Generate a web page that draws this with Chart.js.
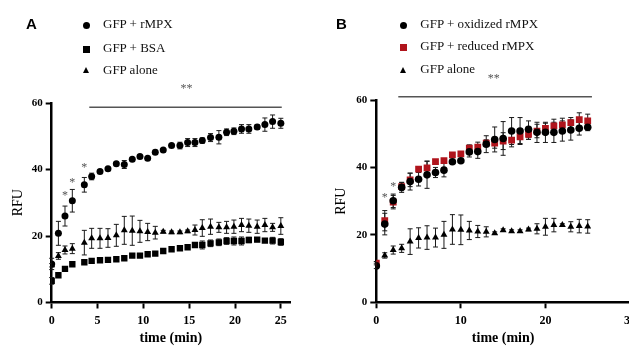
<!DOCTYPE html>
<html>
<head>
<meta charset="utf-8">
<script src="https://cdn.jsdelivr.net/npm/chart.js@4.4.1/dist/chart.umd.min.js"></script>
<style>
  html, body { margin: 0; padding: 0; background: #fff; width: 629px; height: 347px; overflow: hidden; }
  .panel { position: absolute; top: 0; height: 347px; }
  #wrapA { left: 0; width: 314px; }
  #wrapB { left: 314px; width: 340px; }
  .letter { position: absolute; font-family: "Liberation Sans", Arial, sans-serif; font-weight: bold; font-size: 15px; line-height: 15px; }
  .legtext { position: absolute; font-family: "Liberation Serif", "Times New Roman", serif; font-size: 13px; line-height: 16px; white-space: nowrap; color: #111; }
  .mk { position: absolute; background: #000; }
  .mk.circle { width: 7px; height: 7px; border-radius: 50%; }
  .mk.rect { width: 7px; height: 7px; }
  .mk.triangle { width: 0; height: 0; background: none; border-left: 3.5px solid transparent; border-right: 3.5px solid transparent; border-bottom: 6px solid #000; }
</style>
</head>
<body>
<div id="wrapA" class="panel"><canvas id="chartA" width="314" height="347"></canvas></div>
<div id="wrapB" class="panel"><canvas id="chartB" width="340" height="347"></canvas></div>
<div class="letter" style="left:26px; top:16px;">A</div>
<div class="letter" style="left:336px; top:16px;">B</div>

<script>
// ---- panel A data (time in min, RFU, SEM) ----
const labelsA = ['GFP + rMPX', 'GFP + BSA', 'GFP alone'];
const timeA = [0, 0.73, 1.45, 2.25, 3.56, 4.36, 5.27, 6.14, 7.05, 7.92, 8.79, 9.63, 10.47, 11.3, 12.17,
               13.08, 13.99, 14.83, 15.63, 16.43, 17.33, 18.24, 19.08, 19.88, 20.71, 21.51, 22.42, 23.26, 24.1, 25.0];
const rmpxA = [11.6, 20.8, 26.0, 30.6, 35.4, 37.9, 39.4, 40.2, 41.7, 41.5, 43.1, 43.9, 43.4, 45.2, 45.9,
               47.2, 47.2, 48.1, 48.1, 48.7, 49.6, 49.7, 51.2, 51.5, 52.2, 52.2, 52.8, 53.5, 54.4, 53.9];
const rmpxErrA = [1.7, 3.6, 3.0, 3.4, 2.2, 1.0, 0.4, 0.4, 0.5, 1.2, 0.4, 0.4, 0.4, 0.6, 0.4,
                  0.5, 1.0, 1.2, 1.2, 0.8, 1.2, 2.0, 1.0, 1.0, 1.3, 1.3, 0.7, 2.0, 2.0, 1.5];
const bsaA = [6.5, 8.2, 10.1, 11.5, 12.1, 12.5, 12.7, 12.8, 13.0, 13.3, 14.1, 14.1, 14.5, 14.7, 15.5,
              16.0, 16.3, 16.6, 17.3, 17.3, 17.8, 18.1, 18.5, 18.5, 18.5, 18.8, 18.9, 18.6, 18.6, 18.2];
const bsaErrA = [1.0, 0.4, 0.4, 0.4, 0.4, 0.4, 0.4, 0.4, 0.4, 0.4, 0.4, 0.4, 0.4, 0.4, 0.5,
                 0.4, 0.4, 0.4, 0.5, 1.2, 1.0, 1.0, 1.0, 1.2, 1.2, 0.8, 0.6, 0.5, 1.0, 1.0];
const aloneA = [11.2, 14.0, 15.8, 16.2, 18.0, 19.3, 19.3, 19.4, 20.2, 21.7, 21.6, 21.4, 21.2, 21.0, 21.3,
                21.1, 21.1, 21.4, 21.8, 22.4, 22.8, 22.6, 22.6, 22.8, 23.3, 23.1, 22.8, 23.3, 22.6, 23.0];
const aloneErrA = [0.5, 1.0, 1.2, 1.5, 3.7, 3.0, 3.0, 2.8, 3.3, 4.2, 4.4, 3.3, 2.6, 1.9, 0.4,
                   0.4, 0.4, 0.4, 1.5, 2.5, 2.3, 1.5, 1.8, 2.0, 2.0, 2.0, 2.0, 2.0, 1.2, 2.5];
// significance marks (x in min, y in RFU)
const starsA = [[1.45, 32.0, '*'], [2.25, 35.9, '*'], [3.56, 40.4, '*'], [14.7, 64.3, '**']];
const barA = [4.1, 25.1, 58.7];

// ---- panel B data ----
const labelsB = ['GFP + oxidized  rMPX', 'GFP + reduced rMPX', 'GFP alone'];
const timeB = [0, 1, 2, 3, 4, 5, 6, 7, 8, 9, 10, 11, 12, 13, 14, 15, 16, 17, 18, 19, 20, 21, 22, 23, 24, 25];
const oxB = [10.8, 23.2, 30.1, 34.1, 35.8, 36.5, 37.8, 38.5, 39.2, 41.7, 42.0, 44.6, 44.7,
             46.9, 48.3, 48.6, 50.8, 50.8, 51.3, 50.4, 50.4, 50.4, 50.8, 51.1, 51.6, 51.9];
const oxErrB = [0.8, 3.2, 2.0, 1.5, 2.5, 2.0, 4.0, 1.5, 2.0, 0.4, 0.4, 1.5, 2.0,
                2.5, 3.7, 5.0, 4.0, 4.0, 2.5, 3.0, 3.0, 3.0, 3.0, 3.0, 2.0, 1.0];
const redB = [11.6, 24.2, 29.7, 34.3, 36.3, 39.5, 39.9, 41.7, 42.0, 43.7, 44.0, 45.7, 46.0,
              47.2, 47.2, 47.8, 48.1, 49.1, 49.8, 50.8, 51.6, 52.3, 52.6, 53.3, 54.2, 53.8];
const redErrB = [0.5, 3.0, 2.0, 1.2, 2.0, 0.5, 2.0, 0.4, 0.4, 0.4, 0.4, 1.0, 1.5,
                 1.0, 1.5, 2.5, 2.0, 2.0, 1.5, 2.0, 1.5, 2.0, 2.0, 1.5, 2.0, 2.0];
const aloneTimeB = [1, 2, 3, 4, 5, 6, 7, 8, 9, 10, 11, 12, 13, 14, 15, 16, 17, 18, 19, 20, 21, 22, 23, 24, 25];
const aloneB = [13.9, 15.5, 16.0, 18.0, 19.1, 19.2, 19.2, 20.0, 21.6, 21.5, 21.3, 21.0, 20.9,
                20.5, 21.4, 21.1, 21.1, 21.6, 21.8, 22.4, 22.9, 22.9, 22.4, 22.6, 22.5];
const aloneErrB = [0.8, 1.2, 1.2, 3.8, 3.0, 3.5, 2.8, 4.0, 4.4, 4.4, 2.7, 1.8, 1.5,
                   0.4, 0.4, 0.4, 0.4, 0.4, 1.5, 2.5, 2.0, 0.4, 1.5, 2.0, 2.0];
const starsB = [[1, 31.1, '*'], [2, 34.3, '*'], [13.9, 66.4, '**']];
const barB = [2.6, 25.5, 61.0];

const RED = '#b0141c';
const SERIF = '"Liberation Serif", "Times New Roman", serif';

function pts(xs, ys) { return xs.map((x, i) => ({ x: x, y: ys[i] })); }

// error bars drawn under the markers, using the chart scales
const errorBars = {
  id: 'errorBars',
  beforeDatasetsDraw(chart) {
    const ctx = chart.ctx, xs = chart.scales.x, ys = chart.scales.y;
    ctx.save();
    ctx.strokeStyle = '#1a1a1a';
    ctx.lineWidth = 1;
    chart.data.datasets.forEach(ds => {
      if (!ds.err) return;
      ds.data.forEach((p, i) => {
        const e = ds.err[i];
        if (!e) return;
        const px = xs.getPixelForValue(p.x);
        const t = ys.getPixelForValue(p.y + e), b = ys.getPixelForValue(p.y - e);
        ctx.beginPath();
        ctx.moveTo(px, t); ctx.lineTo(px, b);
        ctx.moveTo(px - 2.5, t); ctx.lineTo(px + 2.5, t);
        ctx.moveTo(px - 2.5, b); ctx.lineTo(px + 2.5, b);
        ctx.stroke();
      });
    });
    ctx.restore();
  }
};

// asterisks + the ** bar
const sigMarks = {
  id: 'sigMarks',
  afterDraw(chart, args, opts) {
    const ctx = chart.ctx, xs = chart.scales.x, ys = chart.scales.y;
    ctx.save();
    if (opts.bar) {
      const [x0, x1, y] = opts.bar;
      ctx.strokeStyle = '#555';
      ctx.lineWidth = 1.5;
      ctx.beginPath();
      ctx.moveTo(xs.getPixelForValue(x0), ys.getPixelForValue(y));
      ctx.lineTo(xs.getPixelForValue(x1), ys.getPixelForValue(y));
      ctx.stroke();
    }
    ctx.fillStyle = '#555';
    ctx.font = '12px ' + SERIF;
    ctx.textAlign = 'center';
    ctx.textBaseline = 'middle';
    (opts.stars || []).forEach(s => {
      ctx.fillText(s[2], xs.getPixelForValue(s[0]), ys.getPixelForValue(s[1]));
    });
    ctx.restore();
  }
};

function makeChart(id, datasets, o) {
  return new Chart(document.getElementById(id), {
    type: 'scatter',
    data: { datasets: datasets },
    options: {
      responsive: false,
      animation: false,
      layout: { padding: o.padding },
      plugins: {
        legend: { display: false },
        tooltip: { enabled: false },
        sigMarks: { stars: o.stars, bar: o.bar }
      },
      scales: {
        x: {
          type: 'linear', min: 0, max: o.xMax,
          afterFit: s => { s.height = o.xHeight; },
          border: { color: '#000', width: 2.5 },
          grid: { drawOnChartArea: false, drawTicks: true, tickLength: 6, tickWidth: 2, tickColor: '#000' },
          ticks: { stepSize: o.xStep, includeBounds: false, padding: 5, color: '#000', maxRotation: 0,
                   font: { family: SERIF, size: 12, weight: 'bold' } },
          title: { display: true, text: 'time (min)', color: '#000', padding: { top: 0, bottom: 0 },
                   font: { family: SERIF, size: 14, weight: 'bold' } }
        },
        y: {
          type: 'linear', min: 0, max: 60,
          afterFit: s => { s.width = o.yWidth; },
          border: { color: '#000', width: 2.5 },
          grid: { drawOnChartArea: false, drawTicks: true, tickLength: 6, tickWidth: 2, tickColor: '#000' },
          ticks: { stepSize: 20, padding: 3, color: '#000', font: { family: SERIF, size: 11, weight: 'bold' } },
          title: { display: true, text: 'RFU', color: '#000', padding: { top: o.titlePad, bottom: 0 },
                   font: { family: SERIF, size: 14 } }
        }
      }
    },
    plugins: [errorBars, sigMarks]
  });
}

function legend(x, rowsY, items) {
  items.forEach((it, i) => {
    const mk = document.createElement('div');
    mk.className = 'mk ' + it.shape;
    mk.style.left = (x - 3.5) + 'px';
    mk.style.top = (rowsY[i] - 3.5) + 'px';
    if (it.shape !== 'triangle') mk.style.background = it.color;
    document.body.appendChild(mk);
    const tx = document.createElement('div');
    tx.className = 'legtext';
    tx.textContent = it.label;
    tx.style.left = (x + 17) + 'px';
    tx.style.top = (rowsY[i] - 9) + 'px';
    document.body.appendChild(tx);
  });
}

makeChart('chartA', [
  { label: labelsA[0], data: pts(timeA, rmpxA), err: rmpxErrA, pointStyle: 'circle', pointRadius: 3.5,
    backgroundColor: '#000', borderColor: '#000', borderWidth: 0, order: 1 },
  { label: labelsA[1], data: pts(timeA, bsaA), err: bsaErrA, pointStyle: 'rect', pointRadius: 4.5,
    backgroundColor: '#000', borderColor: '#000', borderWidth: 0, order: 2 },
  { label: labelsA[2], data: pts(timeA, aloneA), err: aloneErrA, pointStyle: 'triangle', pointRadius: 4,
    backgroundColor: '#000', borderColor: '#000', borderWidth: 0, order: 3 }
], { padding: { left: 5, right: 24, top: 103, bottom: 0 }, xMax: 26, xStep: 5,
     xHeight: 44.5, yWidth: 46.7, titlePad: 4.6, stars: starsA, bar: barA });

makeChart('chartB', [
  { label: labelsB[0], data: pts(timeB, oxB), err: oxErrB, pointStyle: 'circle', pointRadius: 3.8,
    backgroundColor: '#000', borderColor: '#000', borderWidth: 0, order: 1 },
  { label: labelsB[1], data: pts(timeB, redB), err: redErrB, pointStyle: 'rect', pointRadius: 4.8,
    backgroundColor: RED, borderColor: RED, borderWidth: 0, order: 2 },
  { label: labelsB[2], data: pts(aloneTimeB, aloneB), err: aloneErrB, pointStyle: 'triangle', pointRadius: 4,
    backgroundColor: '#000', borderColor: '#000', borderWidth: 0, order: 3 }
], { padding: { left: 10, right: 24, top: 100, bottom: 0 }, xMax: 30, xStep: 10,
     xHeight: 44.7, yWidth: 52.3, titlePad: 9.3, stars: starsB, bar: barB });

legend(86, [25.3, 49, 70.7], [
  { label: labelsA[0], shape: 'circle', color: '#000' },
  { label: labelsA[1], shape: 'rect', color: '#000' },
  { label: labelsA[2], shape: 'triangle', color: '#000' }
]);
legend(403.3, [25.3, 47.3, 70], [
  { label: labelsB[0], shape: 'circle', color: '#000' },
  { label: labelsB[1], shape: 'rect', color: RED },
  { label: labelsB[2], shape: 'triangle', color: '#000' }
]);
</script>
</body>
</html>
